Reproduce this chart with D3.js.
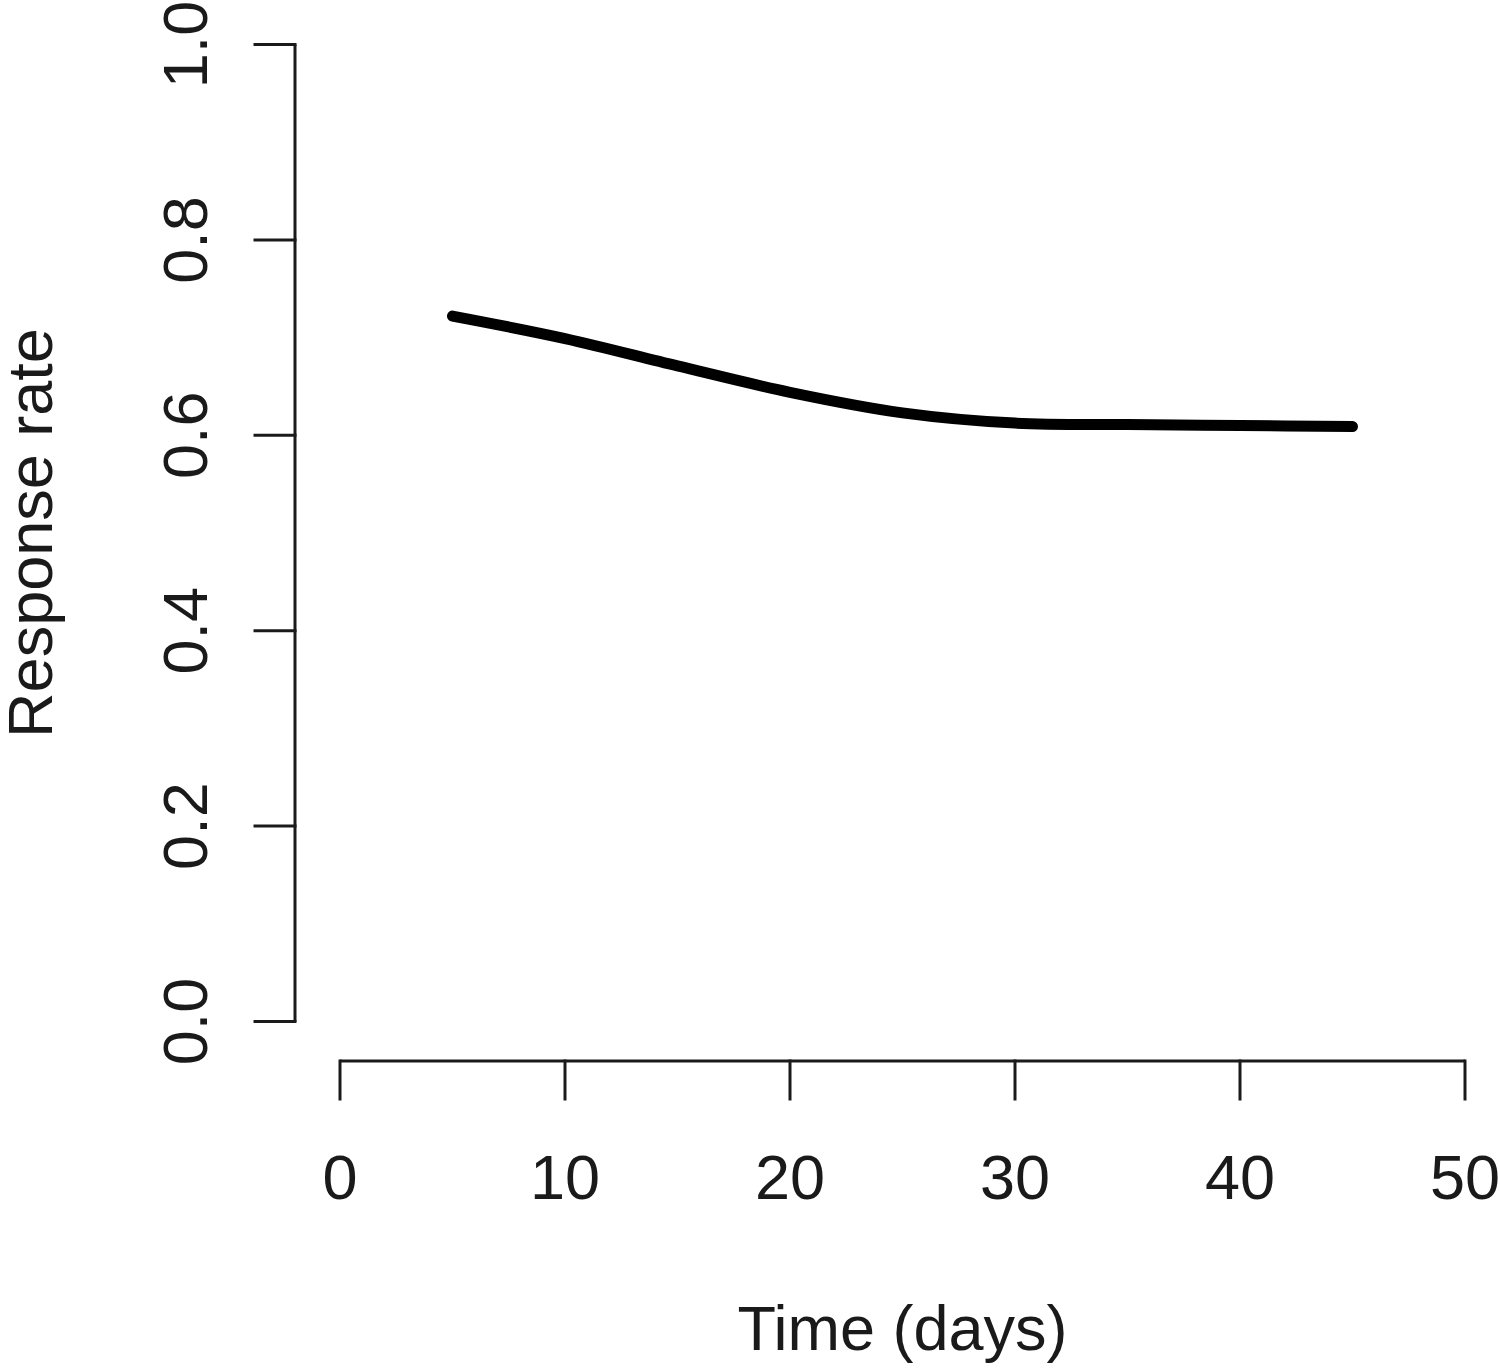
<!DOCTYPE html>
<html>
<head>
<meta charset="utf-8">
<script src="https://cdn.jsdelivr.net/npm/d3@7"></script>
<style>
  html, body { margin: 0; padding: 0; background: #fff; }
  svg { display: block; }
  .axis text { font-family: "Liberation Sans", Arial, sans-serif; }
</style>
</head>
<body>
<div id="chart"></div>
<script>
// data
const days = [5, 10, 15, 20, 25, 30, 35, 40, 45];
const responseRate = [0.722, 0.699, 0.671, 0.644, 0.623, 0.6125, 0.611, 0.610, 0.609];
const xTicks = [0, 10, 20, 30, 40, 50];
const yTicks = [0, 0.2, 0.4, 0.6, 0.8, 1.0];

const width = 1500,
      height = 1371;

const fontSize = 63;
const inkColor = '#1a1a1a';

const svg = d3.select('#chart').append('svg')
  .attr('width', width)
  .attr('height', height);

const x = d3.scaleLinear().domain([0, 50]).range([340, 1465]);
const y = d3.scaleLinear().domain([0, 1]).range([1021.5, 44.5]);

// y axis (R style, offset from plot)
const yAxisX = 295;
const gy = svg.append('g').attr('class', 'axis');
gy.append('line')
  .attr('x1', yAxisX).attr('x2', yAxisX)
  .attr('y1', y(0)).attr('y2', y(1))
  .attr('stroke', inkColor).attr('stroke-width', 3);
gy.selectAll('.tick')
  .data(yTicks)
  .enter()
  .append('line')
  .attr('x1', yAxisX).attr('x2', yAxisX - 40)
  .attr('y1', d => y(d)).attr('y2', d => y(d))
  .attr('stroke', inkColor).attr('stroke-width', 3)
  .attr('stroke-linecap', 'square');
gy.selectAll('.lbl')
  .data(yTicks)
  .enter()
  .append('text')
  .attr('transform', d => `translate(207,${y(d)}) rotate(-90)`)
  .attr('text-anchor', 'middle')
  .attr('font-size', fontSize)
  .attr('fill', inkColor)
  .text(d => d.toFixed(1));

// x axis
const xAxisY = 1061;
const gx = svg.append('g').attr('class', 'axis');
gx.append('line')
  .attr('x1', x(0)).attr('x2', x(50))
  .attr('y1', xAxisY).attr('y2', xAxisY)
  .attr('stroke', inkColor).attr('stroke-width', 3);
gx.selectAll('.tick')
  .data(xTicks)
  .enter()
  .append('line')
  .attr('x1', d => x(d)).attr('x2', d => x(d))
  .attr('y1', xAxisY).attr('y2', xAxisY + 38)
  .attr('stroke', inkColor).attr('stroke-width', 3)
  .attr('stroke-linecap', 'square');
gx.selectAll('.lbl')
  .data(xTicks)
  .enter()
  .append('text')
  .attr('x', d => x(d))
  .attr('y', 1199)
  .attr('text-anchor', 'middle')
  .attr('font-size', fontSize)
  .attr('fill', inkColor)
  .text(d => d);

// axis titles
svg.append('text')
  .attr('x', (x(0) + x(50)) / 2)
  .attr('y', 1350)
  .attr('text-anchor', 'middle')
  .attr('font-size', fontSize)
  .attr('font-family', '"Liberation Sans", Arial, sans-serif')
  .attr('fill', inkColor)
  .text('Time (days)');

svg.append('text')
  .attr('transform', `translate(52,${(y(0) + y(1)) / 2}) rotate(-90)`)
  .attr('text-anchor', 'middle')
  .attr('font-size', fontSize)
  .attr('font-family', '"Liberation Sans", Arial, sans-serif')
  .attr('fill', inkColor)
  .text('Response rate');

// the curve
const line = d3.line()
  .x((d, i) => x(days[i]))
  .y(d => y(d))
  .curve(d3.curveCatmullRom.alpha(0.5));

svg.append('path')
  .datum(responseRate)
  .attr('d', line)
  .attr('fill', 'none')
  .attr('stroke', '#000')
  .attr('stroke-width', 11)
  .attr('stroke-linecap', 'round')
  .attr('stroke-linejoin', 'round');
</script>
</body>
</html>
